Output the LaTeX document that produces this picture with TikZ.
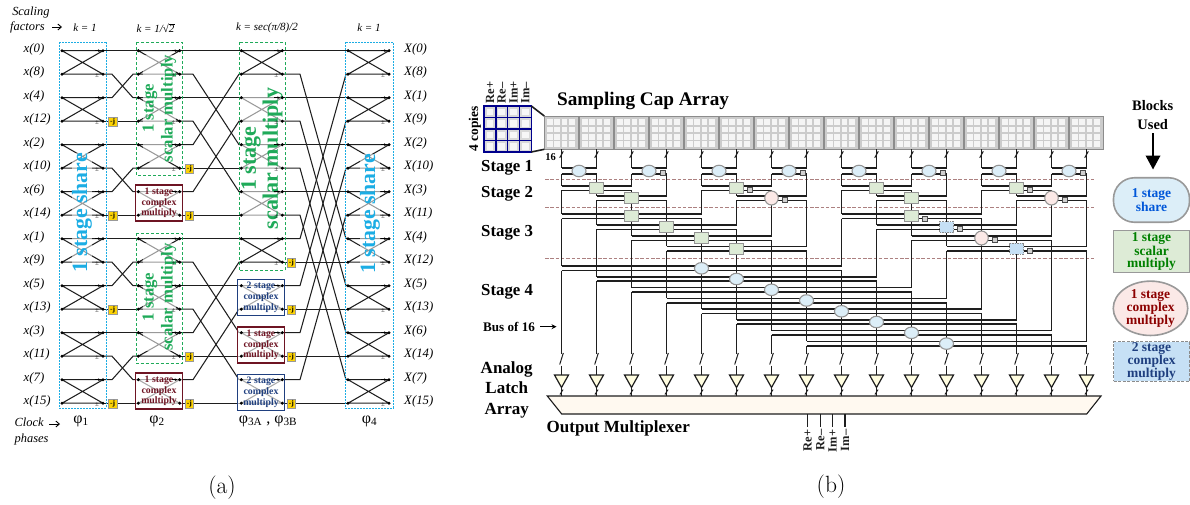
\documentclass[tikz,border=0pt]{standalone}
\usepackage{fontspec}
\usetikzlibrary{arrows.meta,shapes.geometric}
\newfontfamily\lib{Liberation Serif}
\newcommand{\myfs}[2]{\fontsize{#1}{#2}\selectfont}
\definecolor{wirek}{HTML}{1E1E1E}
\definecolor{sblue}{HTML}{1CADE4}
\definecolor{sgreen}{HTML}{1FAA59}
\definecolor{cred}{HTML}{6E1423}
\definecolor{cblue}{HTML}{1F3F7F}
\definecolor{shfill}{HTML}{DCEEF8}
\definecolor{scfill}{HTML}{DDEBD6}
\definecolor{cxfill}{HTML}{FBE9E7}
\definecolor{twfill}{HTML}{C6E0F5}
\tikzset{
 flow/.style={line width=1.05pt,draw=wirek},
 rowlab/.style={font={\lib\itshape\myfs{12.8}{13}},anchor=west,inner sep=0pt},
 klab/.style={font={\lib\itshape\myfs{11}{12}},inner sep=0pt},
 philab/.style={font={\lib\myfs{16}{16}},inner sep=0pt},
 pmlab/.style={font={\lib\myfs{7}{7}},inner sep=0pt,text=wirek},
 jtag/.style={draw=black!40,fill=yellow!70!orange,minimum width=8.5pt,minimum height=9pt,inner sep=0pt,font={\lib\bfseries\myfs{7.5}{8}}},
 bigtxt/.style={rotate=90,align=center,inner sep=0pt,fill=white,fill opacity=.55,text opacity=1},
 cbox/.style={rectangle,line width=1.2pt,fill=white,fill opacity=.62,text opacity=1,draw opacity=1,minimum width=47pt,align=center,inner sep=0pt,font={\lib\bfseries\myfs{9.8}{10.8}}},
 wire/.style={line width=1.6pt,draw=wirek},
 tick/.style={line width=1pt,draw=wirek},
 sh/.style={ellipse,draw=black!42,fill=shfill,line width=1.1pt,minimum width=14pt,minimum height=11.5pt,inner sep=0pt},
 sc/.style={rectangle,draw=black!42,fill=scfill,line width=1.1pt,minimum width=14pt,minimum height=11pt,inner sep=0pt},
 cx/.style={ellipse,draw=black!42,fill=cxfill,line width=1.1pt,minimum width=13.5pt,minimum height=14pt,inner sep=0pt},
 tw/.style={rectangle,draw=black!45,dash pattern=on 1.5pt off 1pt,fill=twfill,line width=.8pt,minimum width=14pt,minimum height=11pt,inner sep=0pt},
 tagbk/.style={rectangle,draw=black!70,fill=black!18,line width=.5pt,minimum size=5pt,inner sep=0pt},
 blab/.style={font={\lib\bfseries\myfs{17}{20.5}},inner sep=0pt,align=center},
 iolab/.style={font={\lib\bfseries\myfs{12.5}{13}},inner sep=0pt,rotate=90,text=wirek},
 legend/.style={font={\lib\bfseries\myfs{13.5}{12}},inner sep=0pt,align=center},
}
\begin{document}
\begin{tikzpicture}[x=1pt,y=-1pt]
\useasboundingbox (0,0) rectangle (1190,504);
% ================= (a) =================
\foreach \r in {0,...,15}{
 \pgfmathsetmacro\yy{50.7+23.5*\r}
 \foreach \s/\lx/\rx/\ka/\kb in {1/62/103/112/133,2/138.3/179.7/193/239,3/241.3/282.3/300/346,4/348/389/380/380}{
  \coordinate (L\s-\r) at (\lx,\yy);
  \coordinate (R\s-\r) at (\rx,\yy);
  \coordinate (A\s-\r) at (\ka,\yy);
  \coordinate (B\s-\r) at (\kb,\yy);
 }
}
% butterflies
\foreach \s in {1,2,3,4}{
 \foreach \r in {0,2,...,14}{
  \pgfmathtruncatemacro\q{\r+1}
  \draw[flow] (L\s-\r)--(R\s-\r) (L\s-\q)--(R\s-\q) (L\s-\r)--(R\s-\q) (L\s-\q)--(R\s-\r);
 }
}
% connectors between stages
\foreach \a/\b in {0/0,1/2,2/1,3/3,4/4,5/6,6/5,7/7,8/8,9/10,10/9,11/11,12/12,13/14,14/13,15/15}
 \draw[flow] (R1-\a)--(A1-\a)--(B1-\b)--(L2-\b);
\foreach \a/\b in {0/0,1/4,2/2,3/6,4/1,5/5,6/3,7/7,8/8,9/12,10/10,11/14,12/9,13/13,14/11,15/15}
 \draw[flow] (R2-\a)--(A2-\a)--(B2-\b)--(L3-\b);
\foreach \a/\b in {0/0,1/8,2/2,3/10,4/4,5/12,6/6,7/14,8/1,9/9,10/3,11/11,12/5,13/13,14/7,15/15}
 \draw[flow] (R3-\a)--(A3-\a)--(B3-\b)--(L4-\b);
% big labels, over the lines
\node[bigtxt,font={\lib\bfseries\myfs{21.8}{22}},text=sblue] (t1) at (82,213) {1 stage share};
\node[bigtxt,font={\lib\bfseries\myfs{21.8}{22}},text=sblue] (t4) at (370,214) {1 stage share};
\node[bigtxt,font={\lib\bfseries\myfs{16.7}{19}},text=sgreen] (t2a) at (159.5,108.5) {1 stage\\scalar multiply};
\node[bigtxt,font={\lib\bfseries\myfs{16.7}{19}},text=sgreen] (t2b) at (159.5,297) {1 stage\\scalar multiply};
\node[bigtxt,font={\lib\bfseries\myfs{22}{22}},text=sgreen] (t3) at (262,158.5) {1 stage\\scalar multiply};
% boxes
\foreach \nm/\xa/\ya/\xb/\yb/\cl in {b1/59/42.3/106.7/408/sblue,b4/345/42.3/393.3/408/sblue}
 \draw[\cl,line width=1pt,dash pattern=on 2pt off 1pt] (\xa,\ya) rectangle (\xb,\yb);
\foreach \nm/\xa/\ya/\xb/\yb in {g1/136/42/182/175,g2/136/233/182/363.3,g3/239/42/285/270.7}
 \draw[sgreen,line width=1pt,dash pattern=on 3pt off 2pt] (\xa,\ya) rectangle (\xb,\yb);
\node[cbox,draw=cred,text=cred,minimum height=36pt] (c1) at (159,203) {1 stage\\complex\\multiply};
\node[cbox,draw=cred,text=cred,minimum height=36pt] (c2) at (159,391) {1 stage\\complex\\multiply};
\node[cbox,draw=cblue,text=cblue,minimum height=36pt] (c3) at (261,297.5) {2 stage\\complex\\multiply};
\node[cbox,draw=cred,text=cred,minimum height=36pt] (c4) at (261,345) {1 stage\\complex\\multiply};
\node[cbox,draw=cblue,text=cblue,minimum height=36pt] (c5) at (261,392.3) {2 stage\\complex\\multiply};
% dots, arrowheads and signs
\foreach \s in {1,2,3,4}{
 \foreach \r in {0,...,15}{
  \fill[black] (L\s-\r) circle (1.7) (R\s-\r) circle (1.7);
 }
 \foreach \r in {0,2,...,14}{
  \draw[line width=.5pt,-{Stealth[length=3pt,width=2.6pt]}] ([xshift=-8pt]R\s-\r) -- ([xshift=-2pt]R\s-\r);
 }
}
\foreach \s/\q in {1/1,1/3,1/5,1/7,1/9,1/11,1/13,1/15,2/1,2/3,2/5,2/9,2/11,2/13,3/1,3/3,3/5,3/7,3/9,4/1,4/3,4/5,4/7,4/9,4/11,4/13,4/15}
 \node[pmlab] (pm\s-\q) at ([shift={(-6pt,-1.5pt)}]R\s-\q) {±};
% -j tags
\foreach \s/\r/\tx in {1/3/112.7,1/7/112.7,1/11/112.7,1/15/112.7,2/5/189.3,2/7/189.3,2/13/189.3,2/15/189.3,3/9/291.3,3/11/291.3,3/13/291.3,3/15/291.3}{
 \pgfmathsetmacro\yy{50.7+23.5*\r}
 \node[jtag] (j\s-\r) at (\tx,\yy) {-j};
}
% row labels
\foreach \r/\tin/\tout in {0/0/0,1/8/8,2/4/1,3/12/9,4/2/2,5/10/10,6/6/3,7/14/11,8/1/4,9/9/12,10/5/5,11/13/13,12/3/6,13/11/14,14/7/7,15/15/15}{
 \pgfmathsetmacro\yy{49.2+23.5*\r}
 \node[rowlab] (in\r) at (23.5,\yy) {x(\tin)};
 \node[rowlab] (out\r) at (404,\yy) {X(\tout)};
}
% top and bottom captions
\node[font={\lib\itshape\myfs{12.4}{15}},align=left,inner sep=0pt,anchor=north west] (scal) at (10,6.5) {\,Scaling\\factors};
\coordinate (scA) at (52,27); \coordinate (scB) at (62,27);
\draw[line width=.9pt,-{Straight Barb[length=3.5pt,width=6pt]}] (scA)--(scB);
\node[klab] (k1) at (85,28) {k = 1};
\node[klab] (k2) at (155.5,28) {k = 1/√\rlap{\rule[8.4pt]{5.6pt}{.4pt}}2};
\node[klab] (k3) at (267,28) {k = sec(π/8)/2};
\node[klab] (k4) at (369,28) {k = 1};
\node[font={\lib\itshape\myfs{12.4}{15.5}},align=left,inner sep=0pt,anchor=north west] (clk) at (14.5,418) {Clock\\phases};
\coordinate (ckA) at (49,424); \coordinate (ckB) at (60,424);
\draw[line width=.9pt,-{Straight Barb[length=3.5pt,width=6pt]}] (ckA)--(ckB);
\node[philab] (p1) at (81,421) {φ\textsubscript{1}};
\node[philab] (p2) at (157,421) {φ\textsubscript{2}};
\node[philab] (p3) at (268,421) {φ\textsubscript{3A} , φ\textsubscript{3B}};
\node[philab] (p4) at (369.5,421) {φ\textsubscript{4}};
\node[font=\myfs{23.5}{24},inner sep=0pt] (cap1) at (222,488) {(a)};
% ================= (b) =================
% sampling caps
\foreach \c in {0,...,15}{
 \pgfmathsetmacro\xc{561.5+35*\c}
 \coordinate (top\c) at (\xc,149.3);
 \coordinate (sw\c) at (\xc,353.5);
 \coordinate (swb\c) at (\xc,365.5);
 \coordinate (bt\c) at (\xc,375);
 \coordinate (tp\c) at (\xc,387.5);
 \coordinate (mx\c) at (\xc,396);
 \draw[draw=black!45,fill=black!20,line width=.7pt] (\xc-17.2,116) rectangle (\xc+17.2,149.3);
 \foreach \i in {0,1,2,3}{\foreach \j in {0,1,2,3}{
  \fill[black!4] (\xc-14.6+7.4*\i,119.2+7.4*\j) rectangle ++(5.6,5.6);
 }}
}
% inset
\fill[white] (484,106) rectangle (531.3,152);
\foreach \i in {0,1,2,3}{\foreach \j in {0,1,2,3}{
 \fill[black!15] (484+11.82*\i,106+11.5*\j) rectangle ++(11.82,11.5);
 \fill[black!3] (486.5+11.82*\i,108.5+11.5*\j) rectangle ++(6.8,6.5);
}}
\foreach \i in {1,2,3}{
 \draw[line width=1.4pt,draw=blue!55!black] (484+11.82*\i,106)--(484+11.82*\i,152);
 \draw[line width=1.4pt,draw=blue!55!black] (484,106+11.5*\i)--(531.3,106+11.5*\i);
}
\draw[line width=1.4pt,draw=blue!55!black] (484,106) rectangle (531.3,152);
\coordinate (inA) at (531.3,106); \coordinate (inB) at (531.3,152);
\coordinate (tlA) at (544.3,116); \coordinate (tlB) at (544.3,149.3);
\draw[wire] (inA)--(tlA) (inB)--(tlB);
% stage separators
\foreach \nm/\yy in {d1/179.3,d2/207.7,d3/258.3}
 \draw[draw=red!35!black!50,line width=.7pt,dash pattern=on 3.5pt off 1.8pt] (545,\yy)--(1095,\yy);
% butterfly wires
\def\bflist{1/0/1/0.5/171/3/sh/0,1/2/3/2.5/171/3/sh/1,1/4/5/4.5/171/3/sh/0,1/6/7/6.5/171/3/sh/1,1/8/9/8.5/171/3/sh/0,1/10/11/10.5/171/3/sh/1,1/12/13/12.5/171/3/sh/0,1/14/15/14.5/171/3/sh/1,
2/0/2/1/188/2.3/sc/0,2/1/3/2/198/2.3/sc/0,2/4/6/5/188/2.3/sc/1,2/5/7/6/198/2.3/cx/1,2/8/10/9/188/2.3/sc/0,2/9/11/10/198/2.3/sc/0,2/12/14/13/188/2.3/sc/1,2/13/15/14/198/2.3/cx/1,
3/0/4/2/216.3/2.3/sc/0,3/1/5/3/227/2.3/sc/0,3/2/6/4/238/2.3/sc/0,3/3/7/5/248.7/2.3/sc/0,3/8/12/10/216.3/2.3/sc/1,3/9/13/11/227/2.3/tw/1,3/10/14/12/238/2.3/cx/1,3/11/15/13/248.7/2.3/tw/1,
4/0/8/4/268.3/2.2/sh/0,4/1/9/5/279/2.2/sh/0,4/2/10/6/289.8/2.2/sh/0,4/3/11/7/300.5/2.2/sh/0,4/4/12/8/311.3/2.2/sh/0,4/5/13/9/322/2.2/sh/0,4/6/14/10/332.8/2.2/sh/0,4/7/15/11/343.6/2.2/sh/0}
\foreach \lv/\a/\b/\m/\yy/\dd/\kind/\tg in \bflist{
 \pgfmathsetmacro\xa{561.5+35*\a}
 \pgfmathsetmacro\xb{561.5+35*\b}
 \coordinate (i\a-\lv) at (\xa,\yy-\dd);
 \coordinate (o\a-\lv) at (\xa,\yy+\dd);
 \coordinate (i\b-\lv) at (\xb,\yy-\dd);
 \coordinate (o\b-\lv) at (\xb,\yy+\dd);
 \draw[wire] (i\a-\lv)--(i\b-\lv) (o\a-\lv)--(o\b-\lv);
}
% vertical wires
\foreach \c in {0,...,15}{
 \draw[wire] (top\c)--(i\c-1) (o\c-1)--(i\c-2) (o\c-2)--(i\c-3) (o\c-3)--(i\c-4) (o\c-4)--(sw\c);
 \draw[wire] (swb\c)--(bt\c) (tp\c)--(mx\c);
 \draw[tick] ([shift={(-1.8pt,-8.5pt)}]top\c) -- ([shift={(1.8pt,-2pt)}]top\c);
}
% blocks
\foreach \lv/\a/\b/\m/\yy/\dd/\kind/\tg in \bflist{
 \pgfmathsetmacro\xm{561.5+35*\m}
 \node[\kind] (bk\a-\b) at (\xm,\yy) {};
 \ifnum\tg=1
  \node[tagbk] (tg\a-\b) at (\xm+13.3,\yy+2) {};
 \fi
}
% mux
\coordinate (mA) at (547.3,396); \coordinate (mB) at (1101,396); \coordinate (mC) at (1086.7,414); \coordinate (mD) at (561.7,414);
\draw[line width=1.1pt,draw=wirek,fill=yellow!10!orange!5!white] (mA)--(mB)--(mC)--(mD)--cycle;
% latches and switches
\foreach \c in {0,...,15}{
 \draw[tick,fill=yellow!12!white,line width=1.2pt] ([xshift=-7pt]bt\c) -- ([xshift=7pt]bt\c) -- (tp\c) -- cycle;
 \draw[tick] ([shift={(1.8pt,.5pt)}]sw\c) -- ([shift={(-1.8pt,1pt)}]swb\c);
 \draw[tick,line width=.9pt] ([shift={(-1.6pt,-7pt)}]tp\c) -- ([shift={(1.6pt,-2pt)}]tp\c);
}
% output wires
\foreach \nm/\xx/\tx in {a/807.5/Re+,b/820.4/Re–,c/832.6/Im+,d/845/Im–}{
 \coordinate (ow\nm) at (\xx,414);
 \coordinate (ox\nm) at (\xx,427);
 \draw[wire,line width=1.1pt] (ow\nm)--(ox\nm);
 \node[iolab,anchor=east] (ol\nm) at (\xx,429.5) {\tx};
}
\foreach \nm/\xx/\tx in {e/490/Re+,f/501.7/Re–,g/513.5/Im+,h/525.2/Im–}
 \node[iolab,anchor=west] (ol\nm) at (\xx,103.5) {\tx};
% text labels
\node[font={\lib\bfseries\myfs{19.2}{20}},anchor=west,inner sep=0pt] (sca) at (557,101) {Sampling Cap Array};
\node[font={\lib\bfseries\myfs{13.4}{14}},rotate=90,inner sep=0pt] (cop) at (475,129) {4 copies};
\node[font={\lib\bfseries\myfs{10.5}{11}},inner sep=0pt] (n16) at (550.7,157) {16};
\foreach \nm/\yy/\tx in {s1/168/Stage 1,s2/194/Stage 2,s3/233/Stage 3,s4/291.5/Stage 4}
 \node[font={\lib\bfseries\myfs{16.8}{17}},anchor=west,inner sep=0pt] (\nm) at (481,\yy) {\tx};
\node[font={\lib\bfseries\myfs{13.1}{14}},anchor=west,inner sep=0pt] (bus) at (483,326.7) {Bus of 16};
\coordinate (busE) at (556.5,326.7);
\draw[line width=1.1pt,-{Stealth[length=5pt,width=5pt]}] ([xshift=5pt]bus.east)--(busE);
\node[blab] (lat) at (506.7,389.5) {Analog\\Latch\\Array};
\node[font={\lib\bfseries\myfs{17}{18}},anchor=west,inner sep=0pt] (om) at (546.5,428) {Output Multiplexer};
\node[font=\myfs{23.5}{24},inner sep=0pt] (cap2) at (831,487) {(b)};
% legend
\node[font={\lib\bfseries\myfs{14.5}{19}},align=center,inner sep=0pt] (bu) at (1152.7,115) {Blocks\\Used};
\coordinate (buA) at (1153,133); \coordinate (buB) at (1153,169.5);
\draw[line width=2pt,-{Triangle[length=14pt,width=14.5pt]}] (buA)--(buB);
\node[legend,text=blue!60!cyan!85!black,draw=black!40,line width=1.6pt,fill=shfill,rounded corners=21pt,minimum width=76pt,minimum height=44.5pt] (lg1) at (1151.5,200) {1 stage\\share};
\node[legend,text=green!50!black,draw=black!40,line width=1.4pt,fill=scfill,minimum width=76pt,minimum height=42pt] (lg2) at (1151.5,251.5) {1 stage\\scalar\\multiply};
\node[legend,text=red!55!black,ellipse,draw=black!40,line width=1.6pt,fill=cxfill,minimum width=74.5pt,minimum height=50pt] (lg3) at (1150.5,308.3) {1 stage\\complex\\multiply};
\node[legend,text=cblue,draw=black!45,dash pattern=on 3pt off 1.5pt,line width=1.2pt,fill=twfill,minimum width=76pt,minimum height=39.5pt] (lg4) at (1151.5,361.5) {2 stage\\complex\\multiply};
\end{tikzpicture}
\end{document}
